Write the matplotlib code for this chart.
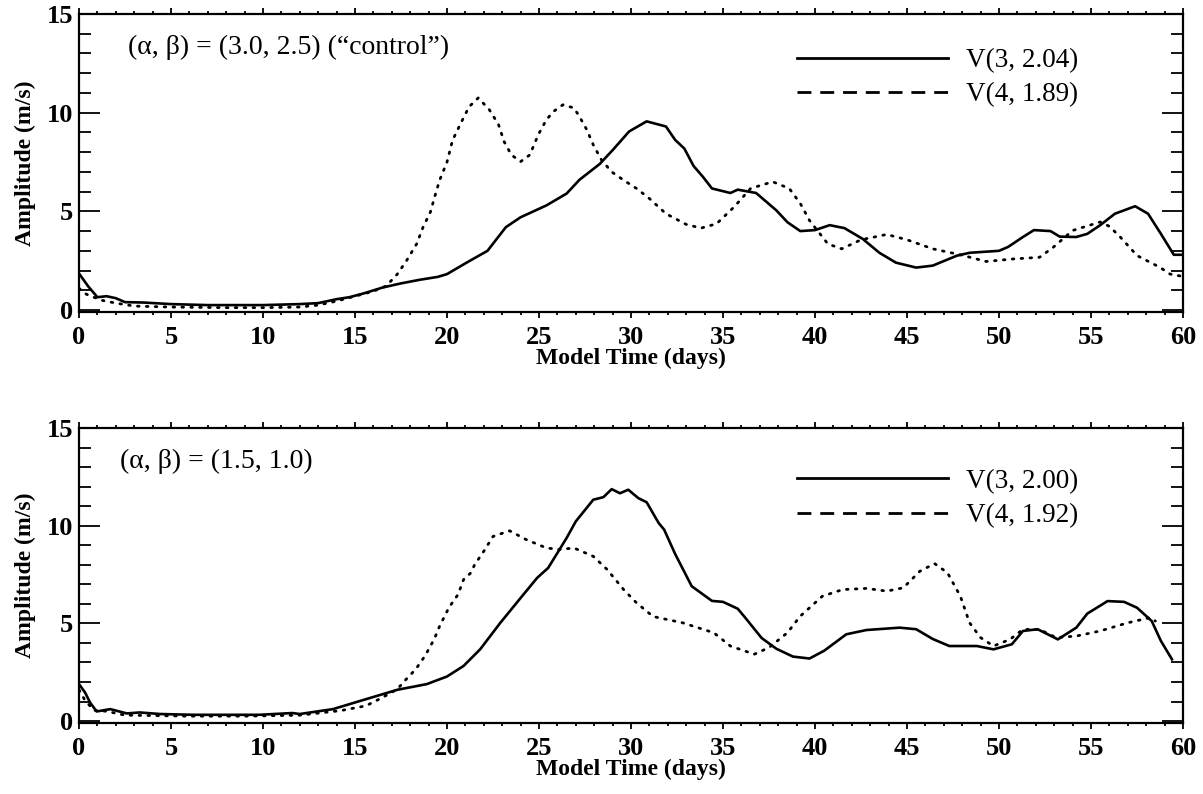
import matplotlib
matplotlib.use("Agg")
import matplotlib.pyplot as plt
from matplotlib.lines import Line2D
from matplotlib.ticker import MultipleLocator

plt.rcParams['font.family'] = ['Liberation Serif', 'DejaVu Serif']

# ---- control run (alpha, beta) = (3.0, 2.5) ----
t_top_v3 = [0, 0.5, 1.0, 1.5, 2.0, 2.5, 3.5, 5, 7, 10, 12, 13, 14, 14.7, 15.5, 16.5,
            17.5, 18.5, 19.5, 20.0, 21.1, 22.2, 23.2, 24.0, 25.4, 26.5, 27.2, 28.3,
            29.0, 29.9, 30.85, 31.9, 32.4, 32.9, 33.4, 33.9, 34.4, 35.4, 35.8, 36.8,
            37.9, 38.5, 39.2, 40.0, 40.8, 41.6, 42.6, 43.5, 44.4, 45.5, 46.4, 47.7,
            48.4, 50.0, 50.5, 51.3, 51.9, 52.8, 53.3, 54.2, 54.8, 55.5, 56.3, 57.4,
            58.1, 58.8, 59.5, 60.0]
v_top_v3 = [1.85, 1.2, 0.65, 0.7, 0.6, 0.4, 0.38, 0.3, 0.25, 0.25, 0.3, 0.35, 0.55, 0.65,
            0.85, 1.14, 1.35, 1.53, 1.68, 1.82, 2.42, 3.0, 4.2, 4.7, 5.3, 5.9, 6.6, 7.4,
            8.1, 9.05, 9.56, 9.3, 8.62, 8.18, 7.3, 6.76, 6.16, 5.93, 6.1, 5.93,
            5.05, 4.45, 4.0, 4.05, 4.3, 4.15, 3.6, 2.9, 2.4, 2.15, 2.25, 2.75,
            2.9, 3.0, 3.2, 3.7, 4.05, 4.0, 3.72, 3.7, 3.86, 4.3, 4.88, 5.26,
            4.88, 3.86, 2.8, 2.8]

t_top_v4 = [0, 0.4, 1.2, 2.0, 3.0, 5, 8, 10, 12, 13, 14, 15, 16, 16.7, 17.3, 17.8,
            18.35, 18.7, 19.1, 19.35, 19.6, 20.0, 20.3, 20.8, 21.2, 21.7, 22.3, 22.8,
            23.1, 23.5, 24.0, 24.5, 24.96, 25.4, 25.8, 26.3, 26.9, 27.2, 27.6, 27.95,
            28.4, 28.95, 29.6, 30.3, 31.0, 31.9, 33.0, 33.8, 34.65, 35.6, 36.5, 37.7,
            38.6, 39.2, 39.7, 40.7, 41.45, 42.5, 43.9, 45.0, 46.4, 47.9, 49.3, 50.8,
            52.2, 52.95, 54.0, 55.5, 56.0, 56.6, 57.5, 58.75, 59.3, 60.0]
v_top_v4 = [1.1, 0.8, 0.5, 0.35, 0.2, 0.15, 0.12, 0.12, 0.15, 0.25, 0.45, 0.7, 0.95, 1.22,
            1.82, 2.5, 3.35, 4.2, 4.97, 5.8, 6.58, 7.5, 8.6, 9.56, 10.3, 10.75, 10.15,
            9.4, 8.54, 7.86, 7.52, 7.86, 8.88, 9.64, 10.07, 10.4, 10.24, 9.8, 9.13,
            8.37, 7.6, 7.0, 6.58, 6.16, 5.65, 4.88, 4.34, 4.15, 4.37, 5.22, 6.16, 6.5,
            6.16, 5.4, 4.54, 3.35, 3.1, 3.56, 3.83, 3.56, 3.1, 2.8, 2.46, 2.59,
            2.67, 3.18, 4.03, 4.46, 4.24, 3.69, 2.76, 2.16, 1.82, 1.7]

# ---- run (alpha, beta) = (1.5, 1.0) ----
t_bot_v3 = [0, 0.33, 0.6, 0.96, 1.7, 2.6, 3.3, 4.4, 6.2, 9.8, 11.6, 12.0, 13.8, 15.6,
            17.3, 18.9, 20.0, 20.9, 21.8, 22.9, 24.0, 24.9, 25.5, 26.5, 27.0, 27.95,
            28.5, 28.95, 29.4, 29.85, 30.4, 30.85, 31.5, 31.8, 32.4, 33.3, 34.4, 35.0,
            35.8, 36.2, 37.1, 37.9, 38.8, 39.7, 40.5, 41.7, 42.8, 44.6, 45.5, 46.4,
            47.3, 48.8, 49.7, 50.7, 51.3, 52.1, 53.2, 54.2, 54.8, 55.9, 56.8, 57.5,
            58.3, 58.8, 59.4]
v_bot_v3 = [1.89, 1.46, 0.95, 0.49, 0.61, 0.39, 0.44, 0.36, 0.32, 0.32, 0.41, 0.36, 0.61,
            1.12, 1.6, 1.89, 2.28, 2.82, 3.67, 5.03, 6.3, 7.33, 7.84, 9.37, 10.22, 11.33,
            11.46, 11.87, 11.66, 11.84, 11.41, 11.2, 10.14, 9.8, 8.55, 6.9, 6.15, 6.1,
            5.75, 5.3, 4.25, 3.7, 3.3, 3.2, 3.6, 4.44, 4.66, 4.78, 4.7, 4.2,
            3.84, 3.84, 3.67, 3.93, 4.61, 4.7, 4.18, 4.78, 5.5, 6.14, 6.1, 5.8,
            5.12, 4.1, 3.16]

t_bot_v4 = [0, 0.3, 0.8, 1.5, 2.5, 4, 6, 9, 12.0, 14.2, 15.6, 16.5, 17.3, 17.7, 18.3,
            18.8, 19.3, 19.6, 20.1, 20.6, 20.9, 21.3, 21.5, 22.0, 22.5, 23.4, 24.3,
            25.4, 26.1, 26.9, 27.95, 28.7, 29.6, 30.3, 31.2, 32.8, 34.5, 35.4, 36.7,
            37.5, 38.5, 39.2, 40.4, 41.5, 42.8, 43.9, 44.8, 45.7, 46.5, 47.2, 47.9,
            48.4, 49.0, 49.7, 50.6, 51.3, 52.2, 53.1, 54.2, 55.5, 57.0, 58.2, 58.5]
v_bot_v4 = [1.6, 1.1, 0.55, 0.5, 0.3, 0.28, 0.25, 0.25, 0.3, 0.53, 0.78, 1.21, 1.63, 2.06,
            2.65, 3.33, 4.18, 4.86, 5.8, 6.48, 7.24, 7.59, 8.0, 8.69, 9.45, 9.74, 9.29,
            8.86, 8.78, 8.86, 8.43, 7.76, 6.73, 6.05, 5.35, 5.03, 4.52, 3.84, 3.42,
            3.76, 4.52, 5.37, 6.39, 6.73, 6.79, 6.65, 6.82, 7.67, 8.06, 7.59, 6.39,
            5.03, 4.27, 3.84, 4.18, 4.69, 4.69, 4.27, 4.35, 4.61, 5.03, 5.29, 5.12]

panels = [
    dict(t3=t_top_v3, v3=v_top_v3, t4=t_top_v4, v4=v_top_v4,
         note='(\u03b1, \u03b2) = (3.0, 2.5) (\u201ccontrol\u201d)', note_x=0.044,
         lab3='V(3, 2.04)', lab4='V(4, 1.89)', leg_y=0.886,
         rect=[79 / 1203, 1 - 312 / 794, 1104 / 1203, 298 / 794]),
    dict(t3=t_bot_v3, v3=v_bot_v3, t4=t_bot_v4, v4=v_bot_v4,
         note='(\u03b1, \u03b2) = (1.5, 1.0)', note_x=0.037,
         lab3='V(3, 2.00)', lab4='V(4, 1.92)', leg_y=0.862,
         rect=[79 / 1203, 1 - 723 / 794, 1104 / 1203, 295 / 794]),
]

fig = plt.figure(figsize=(12.03, 7.94), dpi=100)

for p in panels:
    ax = fig.add_axes(p['rect'])
    ax.plot(p['t3'], p['v3'], color='black', lw=1.9, solid_joinstyle='round')
    ax.plot(p['t4'], p['v4'], color='black', lw=2.0, linestyle=(0, (0.6, 2.6)),
            dash_capstyle='round')
    ax.set_xlim(0, 60)
    ax.set_ylim(-0.1, 15)

    for s in ax.spines.values():
        s.set_linewidth(1.6)

    ax.xaxis.set_major_locator(MultipleLocator(5))
    ax.xaxis.set_minor_locator(MultipleLocator(1))
    ax.yaxis.set_major_locator(MultipleLocator(5))
    ax.yaxis.set_minor_locator(MultipleLocator(1))
    ax.tick_params(axis='x', which='both', direction='out', top=True, bottom=True,
                   width=1.3)
    ax.tick_params(axis='x', which='major', length=4, pad=6)
    ax.tick_params(axis='x', which='minor', length=2)
    ax.tick_params(axis='y', which='both', direction='in', left=True, right=True,
                   width=1.3)
    ax.tick_params(axis='y', which='major', length=15, pad=4)
    ax.tick_params(axis='y', which='minor', length=8.5)
    for lab in ax.get_xticklabels() + ax.get_yticklabels():
        lab.set_fontweight('bold')
        lab.set_fontsize(19)

    ax.set_xlabel('Model Time (days)', fontsize=17, fontweight='bold', labelpad=-1)
    ax.set_ylabel('Amplitude (m/s)', fontsize=17, fontweight='bold', labelpad=8)

    ax.text(p['note_x'], 0.888, p['note'], transform=ax.transAxes, fontsize=20,
            ha='left', va='center')

    handles = [Line2D([], [], color='black', lw=2.0),
               Line2D([], [], color='black', lw=2.0, linestyle=(0, (5, 3.2)))]
    ax.legend(handles, [p['lab3'], p['lab4']], loc='upper left',
              bbox_to_anchor=(0.650, p['leg_y']), frameon=False, fontsize=19.5,
              handlelength=5.6, handletextpad=0.66, labelspacing=0.35,
              borderaxespad=0, borderpad=0)

fig.savefig('out.png', dpi=100)
